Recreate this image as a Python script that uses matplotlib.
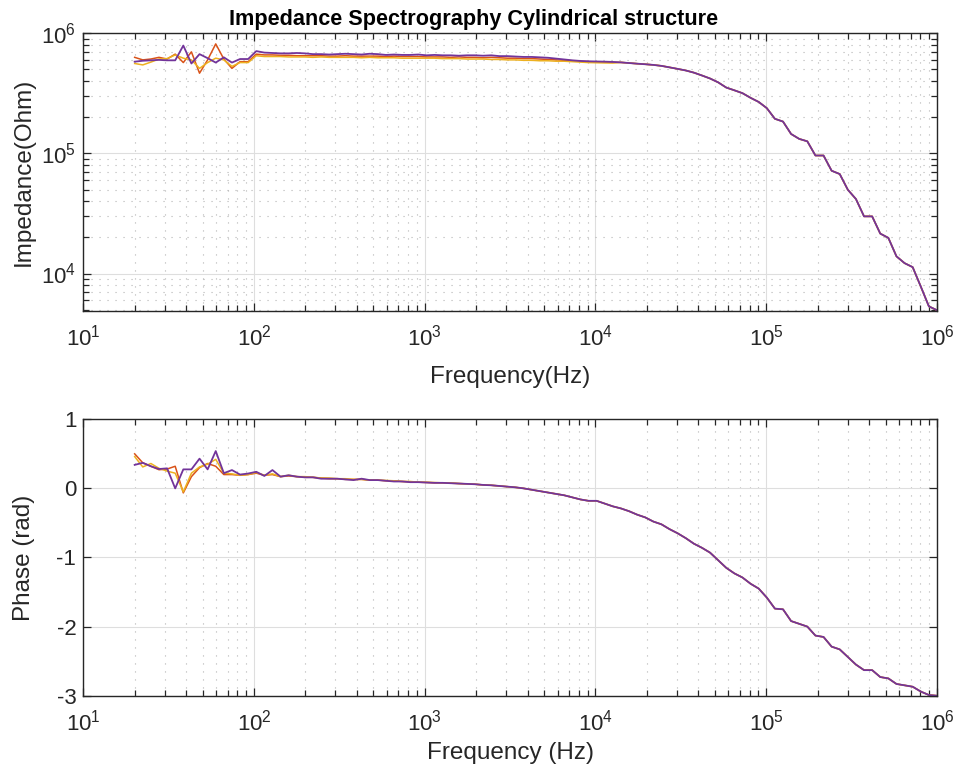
import matplotlib
matplotlib.use('Agg')
import matplotlib.pyplot as plt
from matplotlib.ticker import LogLocator, NullFormatter, MultipleLocator

plt.rcParams['font.family'] = ['Liberation Sans', 'DejaVu Sans']
plt.rcParams['mathtext.fontset'] = 'custom'
plt.rcParams['mathtext.rm'] = 'Liberation Sans'
plt.rcParams['mathtext.it'] = 'Liberation Sans:italic'
plt.rcParams['mathtext.bf'] = 'Liberation Sans:bold'
plt.rcParams['axes.unicode_minus'] = False

# sweep frequencies (Hz)
freq = [20.0, 22.31, 24.89, 27.77, 30.97, 34.55, 38.54, 42.99, 47.96, 53.50,
        59.68, 66.57, 74.26, 82.84, 92.40, 103.1, 115.0, 128.2, 143.0, 159.6,
        178.0, 198.6, 221.5, 247.1, 275.6, 307.4, 342.9, 382.5, 426.7, 476.0,
        530.9, 592.3, 660.7, 737.0, 822.1, 917.0, 1023, 1141, 1273, 1420,
        1584, 1767, 1971, 2198, 2452, 2735, 3051, 3403, 3796, 4235,
        4724, 5269, 5878, 6557, 7314, 8159, 9101, 10152, 11324, 12632,
        14091, 15718, 17533, 19558, 21817, 24336, 27147, 30282, 33779, 37680,
        42031, 46885, 52300, 58340, 65077, 72593, 80976, 90328, 100763, 112400,
        125380, 139860, 156012, 174029, 194127, 216546, 241554, 269450, 300567, 335278,
        373998, 417189, 465369, 519112, 579063, 645937, 720533, 803745, 896566, 1000000]

# impedance, first 60 points per measurement
imp_orange_head = [6.3e5, 6.0e5, 6.1e5, 6.3e5, 6.1e5, 6.7e5, 5.7e5, 7.0e5, 4.65e5, 6.0e5,
                   8.15e5, 6.1e5, 5.1e5, 5.8e5, 5.8e5, 6.7e5, 6.6e5, 6.6e5, 6.55e5, 6.55e5,
                   6.5e5, 6.5e5, 6.5e5, 6.5e5, 6.45e5, 6.45e5, 6.5e5, 6.45e5, 6.45e5, 6.45e5,
                   6.45e5, 6.4e5, 6.45e5, 6.4e5, 6.4e5, 6.4e5, 6.35e5, 6.35e5, 6.35e5, 6.3e5,
                   6.35e5, 6.3e5, 6.3e5, 6.25e5, 6.3e5, 6.25e5, 6.2e5, 6.2e5, 6.15e5, 6.15e5,
                   6.1e5, 6.05e5, 6.0e5, 5.95e5, 5.9e5, 5.85e5, 5.8e5, 5.76e5, 5.74e5, 5.72e5]
imp_yellow_head = [5.6e5, 5.45e5, 5.75e5, 6.1e5, 6.15e5, 6.6e5, 6.2e5, 6.0e5, 5.1e5, 5.7e5,
                   6.2e5, 6.0e5, 5.3e5, 5.7e5, 5.7e5, 6.5e5, 6.4e5, 6.4e5, 6.4e5, 6.35e5,
                   6.35e5, 6.35e5, 6.3e5, 6.35e5, 6.3e5, 6.3e5, 6.3e5, 6.3e5, 6.25e5, 6.3e5,
                   6.25e5, 6.25e5, 6.25e5, 6.2e5, 6.2e5, 6.2e5, 6.2e5, 6.2e5, 6.15e5, 6.15e5,
                   6.15e5, 6.1e5, 6.1e5, 6.1e5, 6.05e5, 6.05e5, 6.0e5, 6.0e5, 5.95e5, 5.95e5,
                   5.9e5, 5.9e5, 5.85e5, 5.85e5, 5.8e5, 5.75e5, 5.7e5, 5.68e5, 5.66e5, 5.65e5]
imp_purple_head = [5.8e5, 5.9e5, 5.95e5, 6.0e5, 5.95e5, 5.95e5, 7.9e5, 5.6e5, 6.7e5, 6.2e5,
                   5.7e5, 6.3e5, 5.7e5, 6.1e5, 6.1e5, 7.1e5, 6.9e5, 6.85e5, 6.8e5, 6.8e5,
                   6.85e5, 6.8e5, 6.7e5, 6.7e5, 6.65e5, 6.7e5, 6.75e5, 6.7e5, 6.65e5, 6.75e5,
                   6.7e5, 6.6e5, 6.65e5, 6.6e5, 6.6e5, 6.65e5, 6.55e5, 6.6e5, 6.55e5, 6.55e5,
                   6.5e5, 6.55e5, 6.55e5, 6.5e5, 6.55e5, 6.45e5, 6.45e5, 6.4e5, 6.35e5, 6.35e5,
                   6.3e5, 6.25e5, 6.15e5, 6.05e5, 5.95e5, 5.88e5, 5.84e5, 5.82e5, 5.8e5, 5.77e5]
# last 40 points, the three curves overlap
imp_tail = [5.72e5, 5.65e5, 5.58e5, 5.52e5, 5.45e5, 5.35e5, 5.2e5, 5.05e5, 4.9e5, 4.7e5,
            4.45e5, 4.2e5, 3.9e5, 3.53e5, 3.35e5, 3.17e5, 2.9e5, 2.68e5, 2.38e5, 1.94e5,
            1.84e5, 1.45e5, 1.32e5, 1.26e5, 9.6e4, 9.6e4, 7.17e4, 6.73e4, 4.98e4, 4.17e4,
            2.99e4, 2.99e4, 2.15e4, 1.98e4, 1.39e4, 1.22e4, 1.13e4, 7.8e3, 5.33e3, 4.95e3]

# phase, first 40 points per measurement
ph_orange_head = [0.50, 0.37, 0.32, 0.27, 0.28, 0.32, -0.065, 0.17, 0.30, 0.36,
                  0.32, 0.20, 0.20, 0.19, 0.20, 0.22, 0.19, 0.20, 0.17, 0.18,
                  0.17, 0.16, 0.16, 0.15, 0.14, 0.14, 0.13, 0.13, 0.13, 0.12,
                  0.12, 0.11, 0.11, 0.10, 0.095, 0.09, 0.085, 0.08, 0.08, 0.075]
ph_yellow_head = [0.46, 0.31, 0.36, 0.29, 0.25, 0.22, -0.05, 0.22, 0.31, 0.35,
                  0.42, 0.22, 0.21, 0.19, 0.20, 0.23, 0.19, 0.21, 0.17, 0.19,
                  0.17, 0.17, 0.16, 0.15, 0.15, 0.14, 0.14, 0.13, 0.13, 0.12,
                  0.12, 0.115, 0.11, 0.10, 0.10, 0.09, 0.09, 0.085, 0.08, 0.08]
ph_purple_head = [0.34, 0.37, 0.32, 0.28, 0.29, 0.0, 0.275, 0.275, 0.43, 0.275,
                  0.54, 0.22, 0.265, 0.20, 0.215, 0.24, 0.18, 0.265, 0.17, 0.19,
                  0.17, 0.16, 0.16, 0.14, 0.14, 0.14, 0.13, 0.12, 0.14, 0.12,
                  0.12, 0.11, 0.10, 0.10, 0.09, 0.09, 0.085, 0.08, 0.08, 0.075]
ph_tail = [0.07, 0.065, 0.06, 0.05, 0.045, 0.035, 0.025, 0.015, 0.0, -0.02,
           -0.04, -0.06, -0.08, -0.10, -0.13, -0.16, -0.18, -0.18, -0.22, -0.26,
           -0.29, -0.33, -0.38, -0.42, -0.48, -0.52, -0.59, -0.65, -0.72, -0.80,
           -0.86, -0.93, -1.04, -1.15, -1.23, -1.29, -1.38, -1.45, -1.58, -1.74,
           -1.75, -1.92, -1.96, -2.00, -2.13, -2.15, -2.29, -2.33, -2.44, -2.55,
           -2.63, -2.63, -2.73, -2.75, -2.83, -2.85, -2.87, -2.94, -2.99, -3.0]

colors = ['#D95319', '#EDB120', '#72349A']
widths = [1.1, 1.1, 1.3]
imp_series = [imp_orange_head + imp_tail, imp_yellow_head + imp_tail, imp_purple_head + imp_tail]
ph_series = [ph_orange_head + ph_tail, ph_yellow_head + ph_tail, ph_purple_head + ph_tail]

AX_COL = '#262626'
TICK_FS = 16
LABEL_FS = 17.5


def style_axes(ax, log_y):
    ax.set_xscale('log')
    ax.set_xlim(10, 1e6)
    ax.xaxis.set_major_locator(LogLocator(base=10, numticks=10))
    ax.xaxis.set_minor_locator(LogLocator(base=10, subs=range(2, 10), numticks=100))
    ax.xaxis.set_minor_formatter(NullFormatter())
    ax.grid(True, which='major', color='#dedede', lw=0.8, ls='-')
    ax.grid(True, which='minor', axis='x', color='#b4b4b4', lw=0.8, ls=(0, (1, 6.2)))
    if log_y:
        ax.grid(True, which='minor', axis='y', color='#b4b4b4', lw=0.8, ls=(0, (1, 6.2)))
    ax.set_axisbelow(True)
    ax.tick_params(which='both', direction='in', top=True, right=True,
                   colors=AX_COL, labelsize=TICK_FS, width=0.9)
    ax.tick_params(which='major', length=6, pad=10)
    ax.tick_params(which='minor', length=4)
    ax.tick_params(axis='y', which='major', pad=5)
    for s in ax.spines.values():
        s.set_color(AX_COL)
        s.set_linewidth(1.0)


fig = plt.figure(figsize=(9.56, 7.73), dpi=100)

ax1 = fig.add_axes([0.0871, 0.598, 0.893, 0.359])
for vals, c, w in zip(imp_series, colors, widths):
    ax1.plot(freq, vals, color=c, lw=w)
ax1.set_yscale('log')
style_axes(ax1, True)
ax1.set_ylim(4.9e3, 1e6)
ax1.yaxis.set_minor_locator(LogLocator(base=10, subs=range(2, 10), numticks=100))
ax1.yaxis.set_minor_formatter(NullFormatter())
ax1.set_title('Impedance Spectrography Cylindrical structure', fontsize=15.6,
              fontweight='bold', color='black', pad=6, x=0.4575)
ax1.set_xlabel('Frequency(Hz)', fontsize=LABEL_FS, color=AX_COL)
ax1.set_ylabel('Impedance(Ohm)', fontsize=LABEL_FS, color=AX_COL)
ax1.xaxis.set_label_coords(0.5, -0.2)
ax1.yaxis.set_label_coords(-0.057, 0.5)

ax2 = fig.add_axes([0.0871, 0.100, 0.893, 0.3576])
for vals, c, w in zip(ph_series, colors, widths):
    ax2.plot(freq, vals, color=c, lw=w)
style_axes(ax2, False)
ax2.set_ylim(-3, 1)
ax2.yaxis.set_major_locator(MultipleLocator(1))
ax2.set_xlabel('Frequency (Hz)', fontsize=LABEL_FS, color=AX_COL)
ax2.set_ylabel('Phase (rad)', fontsize=LABEL_FS, color=AX_COL)
ax2.xaxis.set_label_coords(0.5, -0.168)
ax2.yaxis.set_label_coords(-0.057, 0.5)

fig.savefig('out.png', dpi=100)
